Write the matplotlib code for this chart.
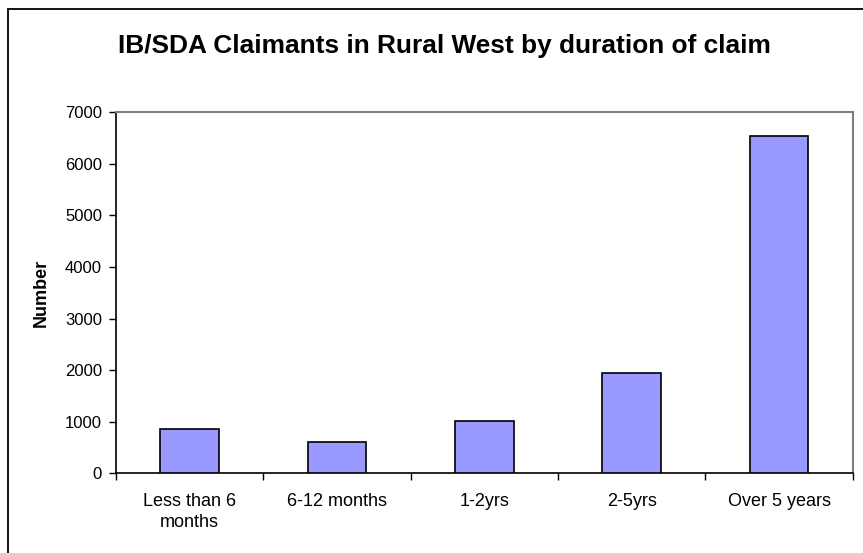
import matplotlib
matplotlib.use("Agg")
import matplotlib.pyplot as plt
from matplotlib.patches import Rectangle

categories = ["Less than 6\nmonths", "6-12 months", "1-2yrs", "2-5yrs", "Over 5 years"]
claimants = [855, 600, 1015, 1940, 6550]

plt.rcParams['font.family'] = ['Liberation Sans', 'DejaVu Sans']

fig = plt.figure(figsize=(8.63, 5.53), dpi=100)
ax = fig.add_axes([116 / 863, 1 - 473.3 / 553, (852.7 - 116) / 863, (473.3 - 112.3) / 553])

x = list(range(len(categories)))
ax.bar(x, claimants, width=0.4, color='#9999FF', edgecolor='black', linewidth=1.2, zorder=3)

ax.set_xlim(-0.5, len(categories) - 0.5)
ax.set_ylim(0, 7000)
ax.set_yticks(range(0, 7001, 1000))
ax.set_xticks(x)
ax.set_xticklabels(categories, linespacing=1.35)
ax.set_xticks([i - 0.5 for i in range(len(categories) + 1)], minor=True)
ax.tick_params(axis='x', which='major', length=0, pad=14, labelsize=13)
ax.tick_params(axis='x', which='minor', length=5, width=1, direction='out')
ax.tick_params(axis='y', length=5, width=1, direction='out', pad=5, labelsize=12)

ax.spines['left'].set_linewidth(1.2)
ax.spines['bottom'].set_linewidth(1.2)
ax.spines['top'].set_color('#808080')
ax.spines['right'].set_color('#808080')
ax.spines['top'].set_linewidth(1.5)
ax.spines['right'].set_linewidth(1.5)

ax.set_ylabel('Number', fontsize=13, fontweight='bold', labelpad=11)

fig.text(444 / 863, 1 - 46.5 / 553, 'IB/SDA Claimants in Rural West by duration of claim',
         ha='center', va='center', fontsize=18.9, fontweight='bold')

# outer chart border
fig.patches.append(Rectangle((8 / 863, -0.05), 1.1, 1 - 9 / 553 + 0.05, transform=fig.transFigure,
                             fill=False, edgecolor='black', linewidth=1.3))

fig.savefig('out.png', dpi=100)
